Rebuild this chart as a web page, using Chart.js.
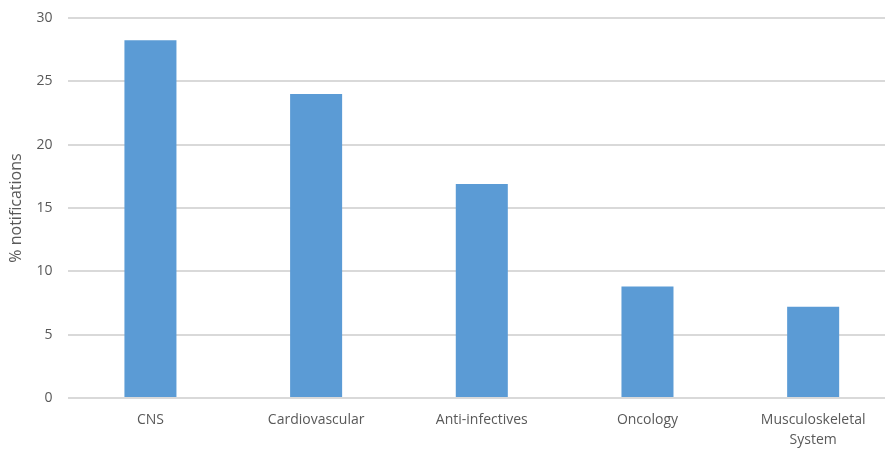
<!DOCTYPE html>
<html>
<head>
<meta charset="utf-8">
<script src="https://cdn.jsdelivr.net/npm/chart.js@4/dist/chart.umd.min.js"></script>
<style>
  html, body { margin: 0; padding: 0; background: #fff; overflow: hidden; }
  #wrap { width: 900px; height: 451px; }
</style>
</head>
<body>
<div id="wrap"><canvas id="notifChart" width="900" height="451"></canvas></div>
<script>
// therapeutic areas and % of notifications
const categories = ["CNS", "Cardiovascular", "Anti-infectives", "Oncology", ["Musculoskeletal", "System"]];
const notificationPct = [28.25, 24.0, 16.9, 8.8, 7.2];
const yTicks = [0, 5, 10, 15, 20, 25, 30];

const tickFont = { family: "'Open Sans', sans-serif", size: 14, lineHeight: 1.45 };

const ctx = document.getElementById("notifChart").getContext("2d");

new Chart(ctx, {
  type: "bar",
  data: {
    labels: categories,
    datasets: [{
      label: "% notifications",
      data: notificationPct,
      backgroundColor: "#5B9BD5",
      borderWidth: 0,
      categoryPercentage: 1,
      barPercentage: 0.314
    }]
  },
  options: {
    responsive: false,
    animation: false,
    layout: { padding: { top: 18, right: 4, left: 0, bottom: 0 } },
    plugins: {
      legend: { display: false },
      tooltip: { enabled: false }
    },
    scales: {
      x: {
        grid: { display: false, drawTicks: false },
        border: { display: false },
        ticks: { color: "#595959", font: tickFont, padding: 12, maxRotation: 0, autoSkip: false },
        afterFit: scale => { scale.height = 53; }
      },
      y: {
        min: 0,
        max: 30,
        afterBuildTicks: scale => { scale.ticks = yTicks.map(v => ({ value: v })); },
        grid: { color: "#D9D9D9", lineWidth: 2, drawTicks: false },
        border: { display: false },
        ticks: { color: "#595959", font: { family: "'Open Sans', sans-serif", size: 14 }, padding: 15 },
        title: {
          display: true,
          text: "% notifications",
          color: "#595959",
          font: { family: "'Open Sans', sans-serif", size: 16 },
          padding: { top: 7, bottom: 0 }
        },
        afterFit: scale => {
          scale.width = 67.6;
          scale.paddingTop = 0;
          scale.paddingBottom = 0;
        }
      }
    }
  }
});
</script>
</body>
</html>
